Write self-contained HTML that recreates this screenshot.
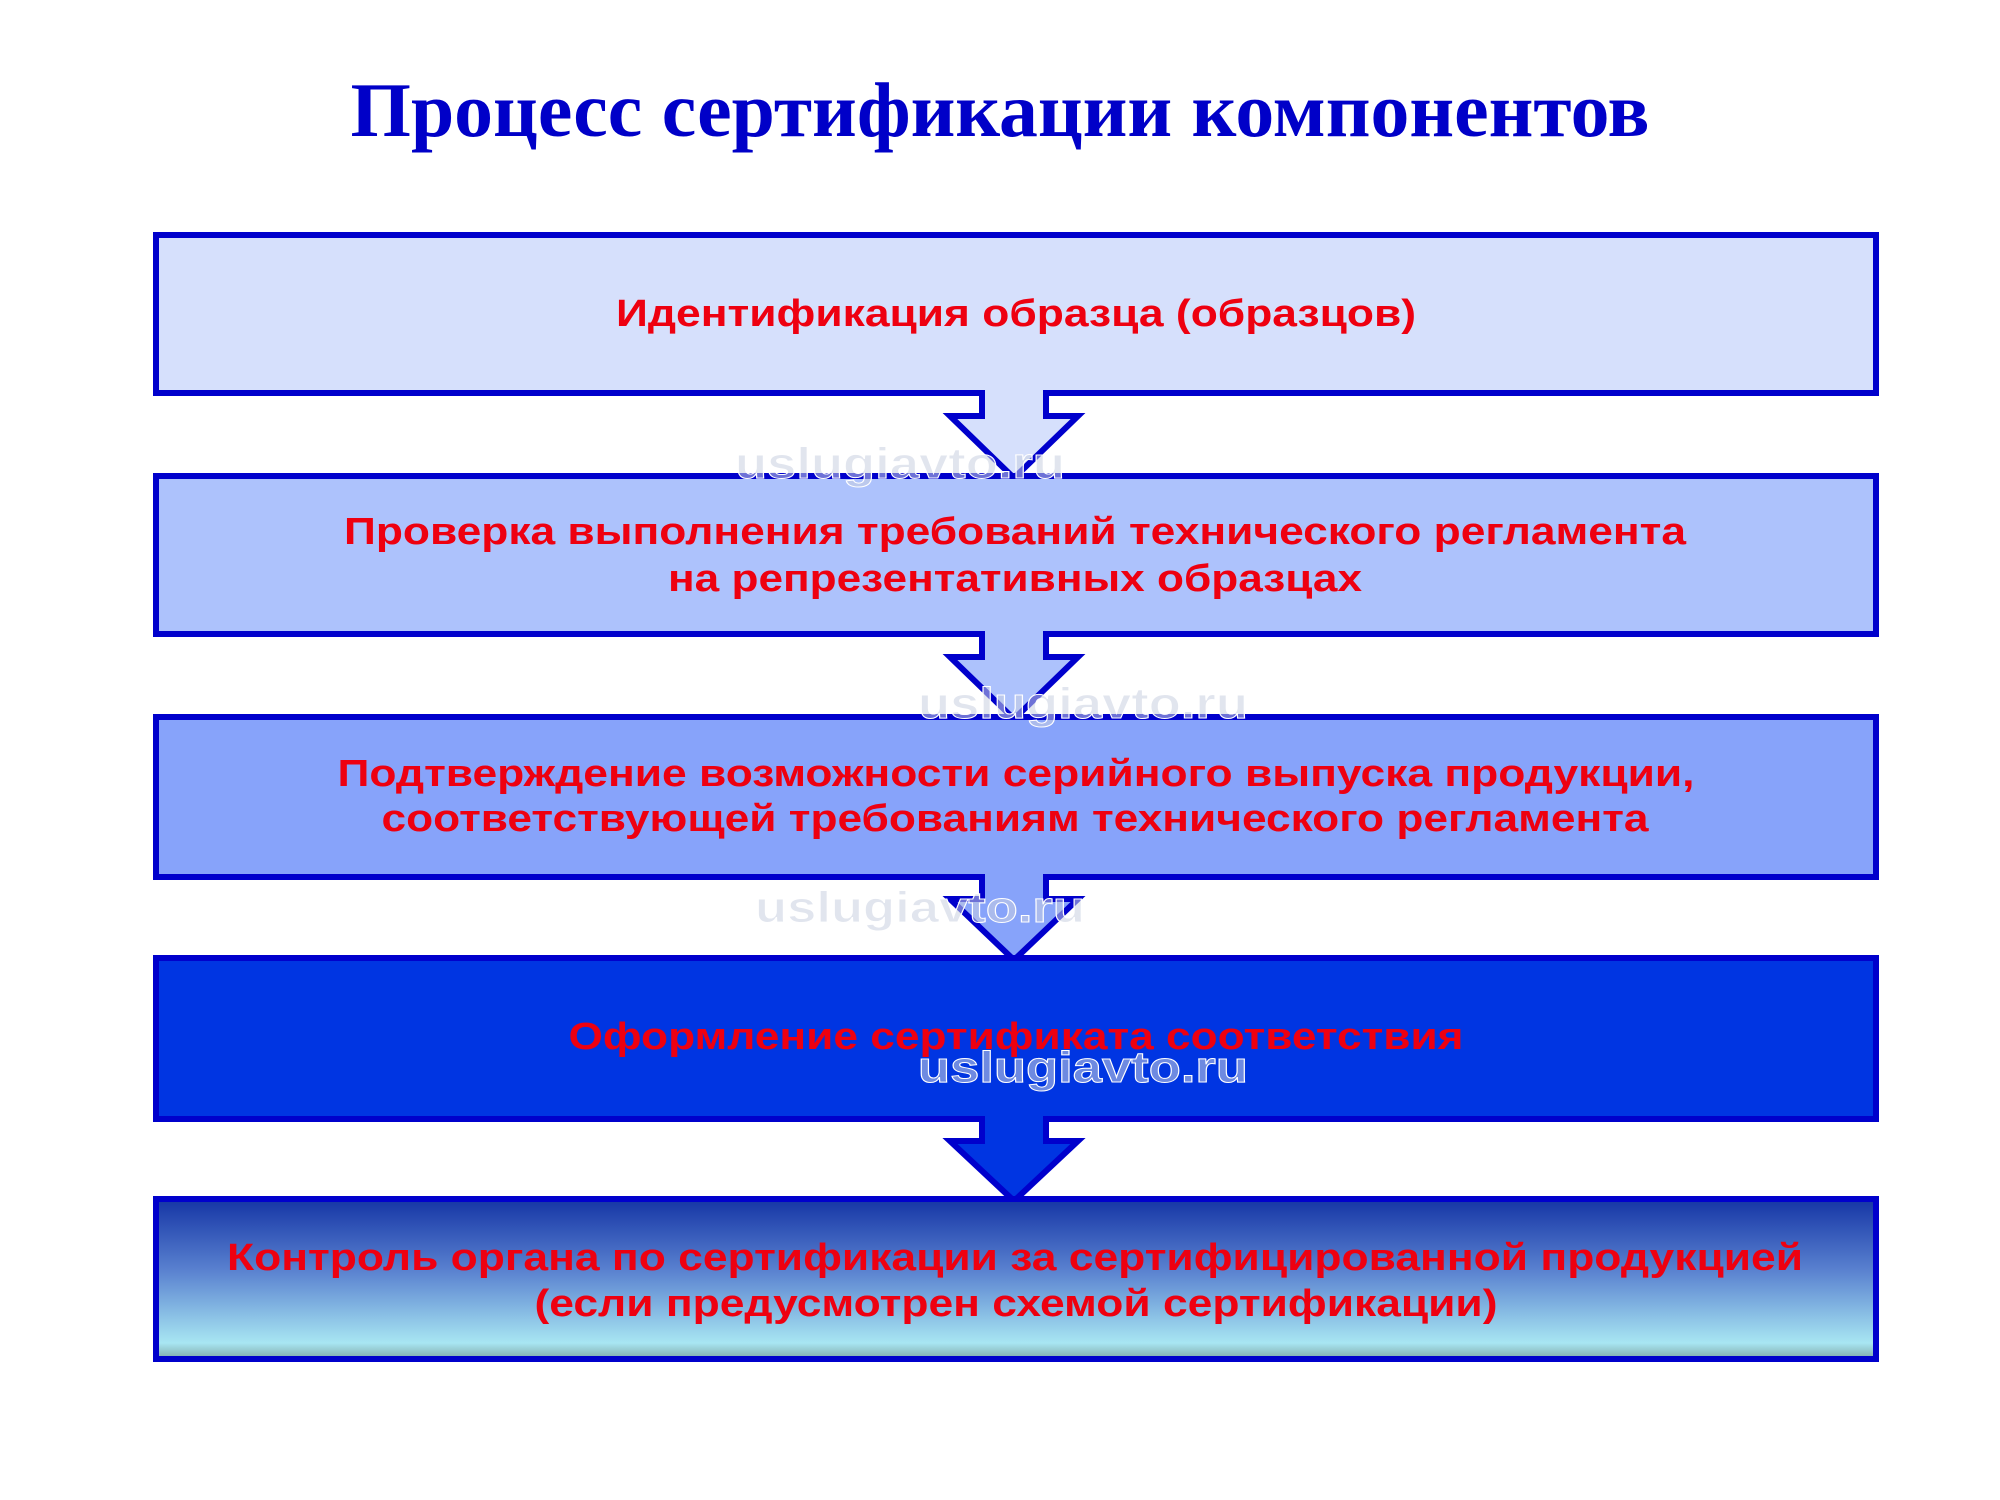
<!DOCTYPE html>
<html><head><meta charset="utf-8"><style>
html,body{margin:0;padding:0;background:#fff;}
svg{display:block;}
</style></head><body>
<svg width="2000" height="1500" viewBox="0 0 2000 1500" xmlns="http://www.w3.org/2000/svg">
<defs>
<linearGradient id="g5" x1="0" y1="0" x2="0" y2="1">
<stop offset="0" stop-color="#1535a5"/>
<stop offset="0.45" stop-color="#5a82d0"/>
<stop offset="0.9" stop-color="#a8e6f2"/>
<stop offset="1" stop-color="#7fa8a8"/>
</linearGradient>
</defs>
<text x="1000" y="136" text-anchor="middle" font-family="Liberation Serif, serif" font-weight="bold" font-size="77" fill="#0000c8" textLength="1299" lengthAdjust="spacingAndGlyphs">Процесс сертификации компонентов</text>

<g stroke="#0000cc" stroke-width="6" stroke-linejoin="miter">
<path d="M156,235 H1876 V393 H1046 V416 H1078 L1014,478 L950,416 H982 V393 H156 Z" fill="#d6e0fc"/>
<path d="M156,476 H1876 V634 H1046 V657 H1078 L1014,719 L950,657 H982 V634 H156 Z" fill="#adc2fc"/>
<path d="M156,717 H1876 V877 H1046 V899 H1078 L1014,960 L950,899 H982 V877 H156 Z" fill="#87a3fa"/>
<path d="M156,958 H1876 V1119 H1046 V1141 H1078 L1014,1201 L950,1141 H982 V1119 H156 Z" fill="#0035e2"/>
<rect x="156" y="1199" width="1720" height="160" fill="url(#g5)"/>
</g>

<g font-family="Liberation Sans, sans-serif" font-weight="bold" font-size="38" fill="#ee0010" text-anchor="middle">
<text x="1016" y="326" textLength="800" lengthAdjust="spacingAndGlyphs">Идентификация образца (образцов)</text>
<text x="1015" y="544" textLength="1342" lengthAdjust="spacingAndGlyphs">Проверка выполнения требований технического регламента</text>
<text x="1015" y="591" textLength="694" lengthAdjust="spacingAndGlyphs">на репрезентативных образцах</text>
<text x="1016" y="786" textLength="1357" lengthAdjust="spacingAndGlyphs">Подтверждение возможности серийного выпуска продукции,</text>
<text x="1015" y="831" textLength="1267" lengthAdjust="spacingAndGlyphs">соответствующей требованиям технического регламента</text>
<text x="1016" y="1049" textLength="895" lengthAdjust="spacingAndGlyphs">Оформление сертификата соответствия</text>
<text x="1015" y="1270" textLength="1576" lengthAdjust="spacingAndGlyphs">Контроль органа по сертификации за сертифицированной продукцией</text>
<text x="1016" y="1316" textLength="963" lengthAdjust="spacingAndGlyphs">(если предусмотрен схемой сертификации)</text>
</g>

<g font-family="Liberation Sans, sans-serif" font-weight="bold" font-size="44" fill="#c8cfe0" fill-opacity="0.55" stroke="#ffffff" stroke-width="1" text-anchor="middle">
<text x="900" y="478" textLength="330" lengthAdjust="spacingAndGlyphs">uslugiavto.ru</text>
<text x="1083" y="718" textLength="330" lengthAdjust="spacingAndGlyphs">uslugiavto.ru</text>
<text x="920" y="922" textLength="330" lengthAdjust="spacingAndGlyphs">uslugiavto.ru</text>
<text x="1083" y="1082" textLength="330" lengthAdjust="spacingAndGlyphs">uslugiavto.ru</text>
</g>
</svg>
</body></html>
